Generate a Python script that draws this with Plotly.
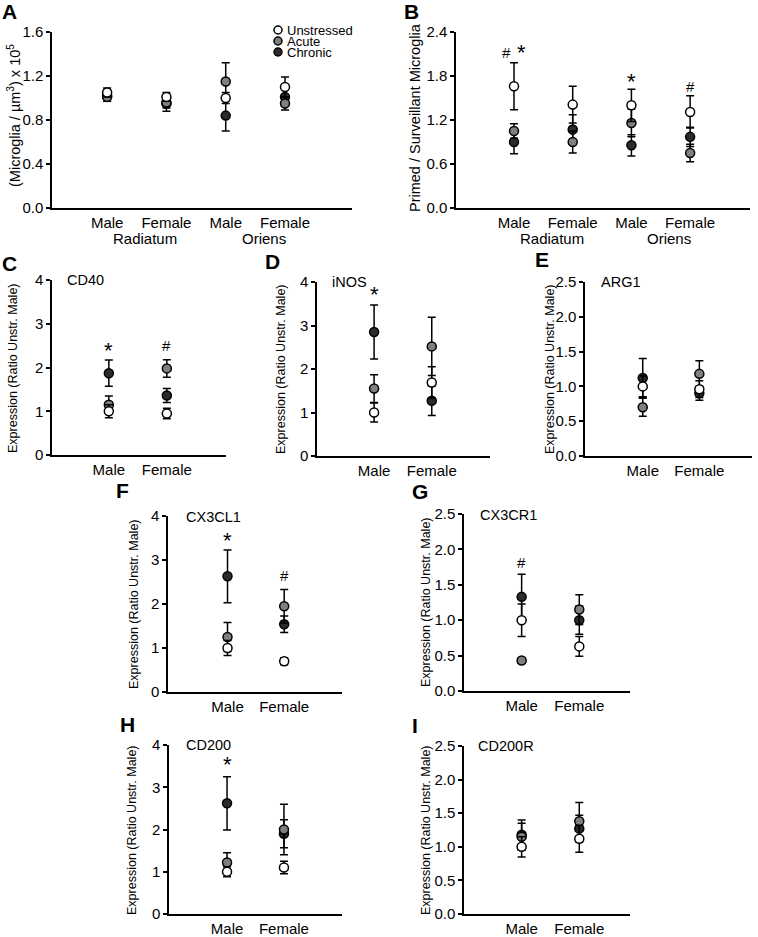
import plotly.graph_objects as go

# ---- values (mean, sem) ----
# A: microglia density
a_cats = ["Male", "Female", "Male", "Female"]
a_unstr = [1.05, 1.01, 1.00, 1.10]
a_unstr_sem = [0.04, 0.04, 0.05, 0.09]
a_acute = [1.01, 0.96, 1.15, 0.95]
a_acute_sem = [0.04, 0.05, 0.17, 0.06]
a_chron = [1.02, 0.95, 0.84, 1.01]
a_chron_sem = [0.05, 0.07, 0.14, 0.07]
a_marks = []

# B: primed / surveillant ratio
b_cats = ["Male", "Female", "Male", "Female"]
b_unstr = [1.66, 1.41, 1.40, 1.31]
b_unstr_sem = [0.32, 0.25, 0.22, 0.22]
b_acute = [1.05, 0.90, 1.16, 0.75]
b_acute_sem = [0.10, 0.15, 0.19, 0.12]
b_chron = [0.90, 1.07, 0.855, 0.97]
b_chron_sem = [0.16, 0.20, 0.145, 0.13]
b_marks = [("#", 0.88, 2.12), ("*", 1.12, 2.12), ("*", 3, 1.72), ("#", 4, 1.66)]

regions = ["Radiatum", "Oriens"]
sexes = ["Male", "Female"]

# C: CD40
c_unstr = [1.00, 0.95]
c_unstr_sem = [0.15, 0.12]
c_acute = [1.15, 1.98]
c_acute_sem = [0.20, 0.20]
c_chron = [1.87, 1.36]
c_chron_sem = [0.30, 0.16]
c_marks = [("*", 1, 2.4), ("#", 2, 2.5)]

# D: iNOS
d_unstr = [1.00, 1.69]
d_unstr_sem = [0.22, 0.36]
d_acute = [1.55, 2.52]
d_acute_sem = [0.32, 0.67]
d_chron = [2.85, 1.27]
d_chron_sem = [0.62, 0.34]
d_marks = [("*", 1, 3.72)]

# E: ARG1
e_unstr = [1.00, 0.96]
e_unstr_sem = [0.15, 0.12]
e_acute = [0.70, 1.18]
e_acute_sem = [0.13, 0.19]
e_chron = [1.12, 0.90]
e_chron_sem = [0.28, 0.10]
e_marks = []

# F: CX3CL1
f_unstr = [1.00, 0.70]
f_unstr_sem = [0.17, 0.08]
f_acute = [1.25, 1.95]
f_acute_sem = [0.33, 0.38]
f_chron = [2.63, 1.54]
f_chron_sem = [0.60, 0.19]
f_marks = [("*", 1, 3.45), ("#", 2, 2.65)]

# G: CX3CR1
g_unstr = [1.00, 0.63]
g_unstr_sem = [0.23, 0.14]
g_acute = [0.43, 1.15]
g_acute_sem = [0.04, 0.21]
g_chron = [1.33, 1.00]
g_chron_sem = [0.32, 0.20]
g_marks = [("#", 1, 1.82)]

# H: CD200
h_unstr = [1.00, 1.10]
h_unstr_sem = [0.12, 0.15]
h_acute = [1.22, 2.00]
h_acute_sem = [0.23, 0.60]
h_chron = [2.62, 1.90]
h_chron_sem = [0.63, 0.33]
h_marks = [("*", 1, 3.55)]

# I: CD200R
i_unstr = [1.00, 1.12]
i_unstr_sem = [0.15, 0.20]
i_acute = [1.15, 1.38]
i_acute_sem = [0.20, 0.28]
i_chron = [1.18, 1.27]
i_chron_sem = [0.22, 0.20]
i_marks = []

# ---- layout helpers (pixel positions in the 758 x 937 page) ----
# body margin is removed by a small post script, so figure == page
FW, FH = 758, 937
FONT = "Liberation Sans, Arial, sans-serif"
YLAB = "Expression (Ratio Unstr. Male)"


def px(x):
    return min(1, max(0, x / FW))


def py(y):
    return min(1, max(0, 1 - y / FH))


panels = [
    dict(L="A", cats=a_cats, d=(a_unstr, a_unstr_sem, a_acute, a_acute_sem, a_chron, a_chron_sem), marks=a_marks,
         box=(52, 352, 32, 208), yr=[0, 1.6], dt=0.4, fmt=".1f", xr=[0.07, 5.13],
         lpos=(9, 12), ytit=("(Microglia / µm<sup>3</sup>) x 10<sup>5</sup>", 14, 116, 14.5), gene=None),
    dict(L="B", cats=b_cats, d=(b_unstr, b_unstr_sem, b_acute, b_acute_sem, b_chron, b_chron_sem), marks=b_marks,
         box=(456, 750, 32, 208), yr=[0, 2.4], dt=0.6, fmt=".1f", xr=[0.012, 5.02],
         lpos=(411, 11), ytit=("Primed / Surveillant Microglia", 415, 118, 14.5), gene=None),
    dict(L="C", cats=sexes, d=(c_unstr, c_unstr_sem, c_acute, c_acute_sem, c_chron, c_chron_sem), marks=c_marks,
         box=(52, 226, 280, 455), yr=[0, 4], dt=1, fmt="d", xr=[0.02, 3.02],
         lpos=(9, 263), ytit=(YLAB, 13, 368, 12.5), gene=("CD40", 65, 280)),
    dict(L="D", cats=sexes, d=(d_unstr, d_unstr_sem, d_acute, d_acute_sem, d_chron, d_chron_sem), marks=d_marks,
         box=(317, 490, 282, 456), yr=[0, 4], dt=1, fmt="d", xr=[0.01, 3.01],
         lpos=(272, 262), ytit=(YLAB, 281, 369, 12.5), gene=("iNOS", 330, 282)),
    dict(L="E", cats=sexes, d=(e_unstr, e_unstr_sem, e_acute, e_acute_sem, e_chron, e_chron_sem), marks=e_marks,
         box=(585, 752, 282, 456), yr=[0, 2.5], dt=0.5, fmt=".1f", xr=[-0.02, 2.93],
         lpos=(542, 259), ytit=(YLAB, 550, 369, 12.5), gene=("ARG1", 599, 282)),
    dict(L="F", cats=sexes, d=(f_unstr, f_unstr_sem, f_acute, f_acute_sem, f_chron, f_chron_sem), marks=f_marks,
         box=(168, 342, 516, 692), yr=[0, 4], dt=1, fmt="d", xr=[-0.05, 3.02],
         lpos=(122, 490), ytit=(YLAB, 134, 604, 12.5), gene=("CX3CL1", 184, 517)),
    dict(L="G", cats=sexes, d=(g_unstr, g_unstr_sem, g_acute, g_acute_sem, g_chron, g_chron_sem), marks=g_marks,
         box=(464, 630, 514, 691), yr=[0, 2.5], dt=0.5, fmt=".1f", xr=[0.0, 2.88],
         lpos=(420, 491), ytit=(YLAB, 426, 602, 12.5), gene=("CX3CR1", 478, 515)),
    dict(L="H", cats=sexes, d=(h_unstr, h_unstr_sem, h_acute, h_acute_sem, h_chron, h_chron_sem), marks=h_marks,
         box=(169, 342, 745, 914), yr=[0, 4], dt=1, fmt="d", xr=[-0.02, 3.02],
         lpos=(127, 724), ytit=(YLAB, 132, 830, 12.5), gene=("CD200", 184, 745)),
    dict(L="I", cats=sexes, d=(i_unstr, i_unstr_sem, i_acute, i_acute_sem, i_chron, i_chron_sem), marks=i_marks,
         box=(464, 630, 746, 914), yr=[0, 2.5], dt=0.5, fmt=".1f", xr=[0.0, 2.88],
         lpos=(415, 725), ytit=(YLAB, 426, 830, 12.5), gene=("CD200R", 476, 746)),
]

# Chronic drawn first so the open circles sit on top
groups = [("Chronic", 4, 5, "#2b2b2b"), ("Acute", 2, 3, "#7f7f7f"), ("Unstressed", 0, 1, "white")]

fig = go.Figure()
annos = []
layout = {}


def note(text, x, y, size, xanchor="center", **kw):
    d = dict(text=text, x=x, y=y, xref="paper", yref="paper", showarrow=False,
             xanchor=xanchor, yanchor="middle", font=dict(size=size, color="black"))
    d.update(kw)
    annos.append(d)


for n, p in enumerate(panels, start=1):
    xa = "x" if n == 1 else "x%d" % n
    ya = "y" if n == 1 else "y%d" % n
    x0, x1, yt, yb = p["box"]
    xs = list(range(1, len(p["cats"]) + 1))
    for name, vi, ei, col in groups:
        fig.add_trace(go.Scatter(
            x=xs, y=p["d"][vi], mode="markers", name=name, showlegend=False,
            xaxis=xa, yaxis=ya,
            marker=dict(size=9, color=col, line=dict(color="black", width=1.5)),
            error_y=dict(type="data", array=p["d"][ei], color="black", thickness=1.5, width=4),
        ))
    layout["xaxis" if n == 1 else "xaxis%d" % n] = dict(
        domain=[px(x0), px(x1)], anchor=ya, range=p["xr"], tickvals=xs, ticktext=p["cats"],
        showline=True, linecolor="black", linewidth=1.5, ticks="", showgrid=False, zeroline=False,
        tickfont=dict(size=15, color="black"), fixedrange=True, automargin=False,
    )
    layout["yaxis" if n == 1 else "yaxis%d" % n] = dict(
        domain=[py(yb), py(yt)], anchor=xa, range=p["yr"], dtick=p["dt"], tick0=0, tickformat=p["fmt"],
        showline=True, linecolor="black", linewidth=1.5, ticks="outside", ticklen=4, tickwidth=1.5,
        tickcolor="black", showgrid=False, zeroline=False, tickfont=dict(size=15, color="black"),
        fixedrange=True, automargin=False,
    )
    note("<b>%s</b>" % p["L"], px(p["lpos"][0]), py(p["lpos"][1]), 21)
    t, tx, ty, ts = p["ytit"]
    note(t, px(tx), py(ty), ts, textangle=-90)
    if p["gene"]:
        g, gx, gy = p["gene"]
        note(g, px(gx), py(gy), 14.5, xanchor="left")
    for s, mx, my in p["marks"]:
        annos.append(dict(text=s, x=mx, y=my, xref=xa, yref=ya, showarrow=False,
                          xanchor="center", yanchor="middle",
                          font=dict(size=22 if s == "*" else 15, color="black")))

# region labels under A and B
for xa in ["x", "x2"]:
    for k, r in enumerate(regions):
        annos.append(dict(text=r, x=1.64 + 2 * k, y=py(238), xref=xa, yref="paper", showarrow=False,
                          xanchor="center", yanchor="middle", font=dict(size=15, color="black")))

# legend of panel A
shapes = []
for k, (name, col) in enumerate([("Unstressed", "white"), ("Acute", "#7f7f7f"), ("Chronic", "#2b2b2b")]):
    cy = 30 + 11 * k
    shapes.append(dict(type="circle", xref="paper", yref="paper",
                       x0=px(274), x1=px(282), y0=py(cy + 4), y1=py(cy - 4),
                       fillcolor=col, line=dict(color="black", width=1.5)))
    note(name, px(285), py(cy), 13, xanchor="left")

fig.update_layout(
    template="none",
    width=FW, height=FH, margin=dict(l=0, r=0, t=0, b=0, autoexpand=False),
    paper_bgcolor="white", plot_bgcolor="white",
    font=dict(family=FONT, color="black"),
    showlegend=False, annotations=annos, shapes=shapes,
    **layout,
)

fig.write_html("out.html", config={"displayModeBar": False},
               post_script="document.body.style.margin='0';")
